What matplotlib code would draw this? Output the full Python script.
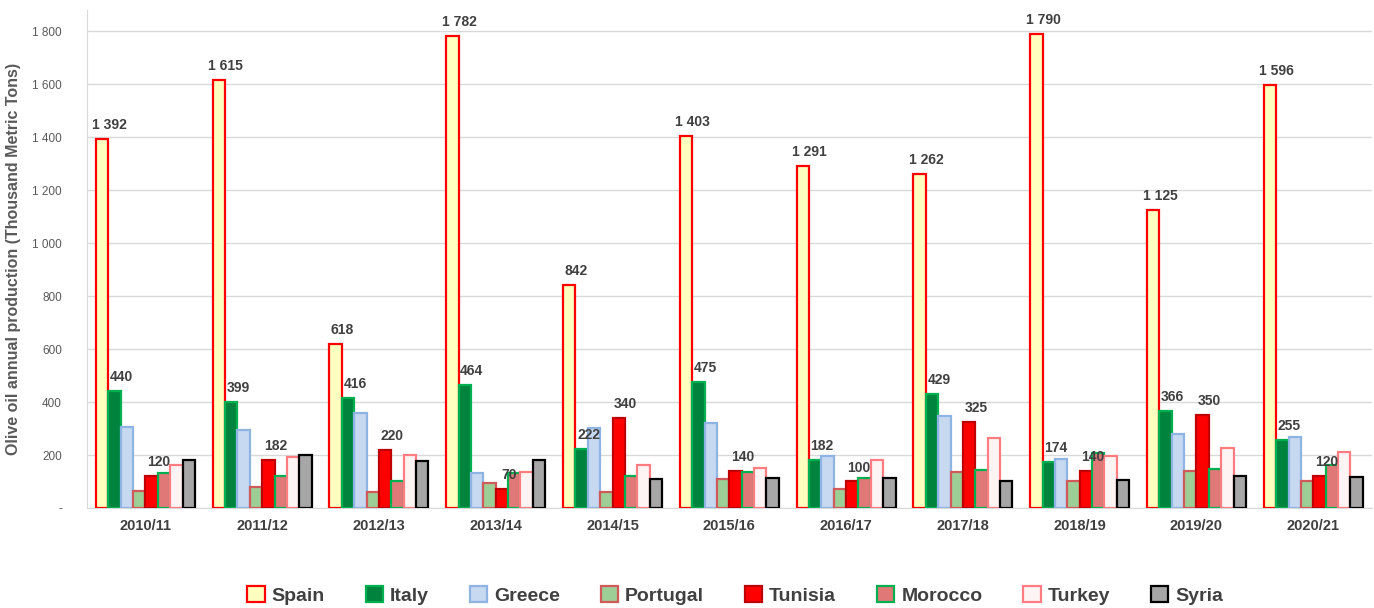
import numpy as np
import matplotlib.pyplot as plt
from matplotlib.ticker import FuncFormatter

plt.rcParams['font.family'] = ['Liberation Sans Narrow', 'Liberation Sans', 'DejaVu Sans']

seasons = ['2010/11', '2011/12', '2012/13', '2013/14', '2014/15', '2015/16',
           '2016/17', '2017/18', '2018/19', '2019/20', '2020/21']

spain = [1392, 1615, 618, 1782, 842, 1403, 1291, 1262, 1790, 1125, 1596]
italy = [440, 399, 416, 464, 222, 475, 182, 429, 174, 366, 255]
greece = [304, 295, 359, 133, 302, 320, 197, 349, 186, 278, 269]
portugal = [65, 78, 60, 93, 60, 108, 70, 134, 102, 141, 102]
tunisia = [120, 182, 220, 70, 340, 140, 100, 325, 140, 350, 120]
morocco = [133, 121, 103, 133, 122, 134, 114, 142, 206, 148, 161]
turkey = [161, 192, 199, 137, 162, 152, 181, 264, 196, 225, 211]
syria = [181, 201, 177, 181, 108, 113, 113, 103, 106, 122, 116]

countries = ['Spain', 'Italy', 'Greece', 'Portugal', 'Tunisia', 'Morocco', 'Turkey', 'Syria']
values = [spain, italy, greece, portugal, tunisia, morocco, turkey, syria]
faces = ['#FFFFC0', '#00843D', '#C6D9F1', '#9DCE95', '#FF0000', '#E07878', '#FFF4F4', '#A6A6A6']
edges = ['#FF0000', '#00B050', '#8EB4E3', '#D05A5A', '#C00000', '#00B050', '#FF7C80', '#000000']
labelled = ['Spain', 'Italy', 'Tunisia']

text_col = '#404040'

fig = plt.figure(figsize=(13.74, 6.08), dpi=100)
ax = fig.add_axes([0.0633, 0.1645, 0.935, 0.8191])

x = np.arange(len(seasons))
w = 0.106
for i, (name, vals) in enumerate(zip(countries, values)):
    pos = x + (i - 3.5) * w
    ax.bar(pos, vals, w, color=faces[i], edgecolor=edges[i], linewidth=1.6,
           label=name, zorder=3)
    if name in labelled:
        for px, v in zip(pos, vals):
            ax.annotate(f'{v:,}'.replace(',', ' '), (px, v), xytext=(5, 5),
                        textcoords='offset points', ha='center', va='bottom',
                        fontsize=10, fontweight='bold', color=text_col, zorder=4)

ax.set_xlim(-0.5, 10.5)
ax.set_ylim(0, 1880)
ax.set_yticks(range(0, 1801, 200))
ax.yaxis.set_major_formatter(FuncFormatter(
    lambda v, p: '-' if v == 0 else f'{int(v):,}'.replace(',', ' ')))
ax.set_xticks(x)
ax.set_xticklabels(seasons, fontsize=10.5, fontweight='bold', color=text_col)
ax.tick_params(axis='y', labelsize=8.5, colors='#595959', length=0, pad=18)
ax.tick_params(axis='x', length=0, pad=8)
ax.grid(axis='y', color='#D9D9D9', linewidth=1, zorder=0)
for s in ['top', 'right']:
    ax.spines[s].set_visible(False)
ax.spines['left'].set_color('#D9D9D9')
ax.spines['bottom'].set_color('#D9D9D9')

ax.set_ylabel('Olive oil annual production (Thousand Metric Tons)', fontsize=11.5,
              fontweight='bold', color='#595959', labelpad=8)

leg = fig.legend(loc='center', bbox_to_anchor=(0.535, 0.021), ncol=8, frameon=False,
                 fontsize=14, handlelength=0.9, handleheight=0.9, columnspacing=2.1,
                 handletextpad=0.35)
for t in leg.get_texts():
    t.set_color(text_col)
    t.set_fontweight('bold')

fig.savefig('out.png', dpi=100)
